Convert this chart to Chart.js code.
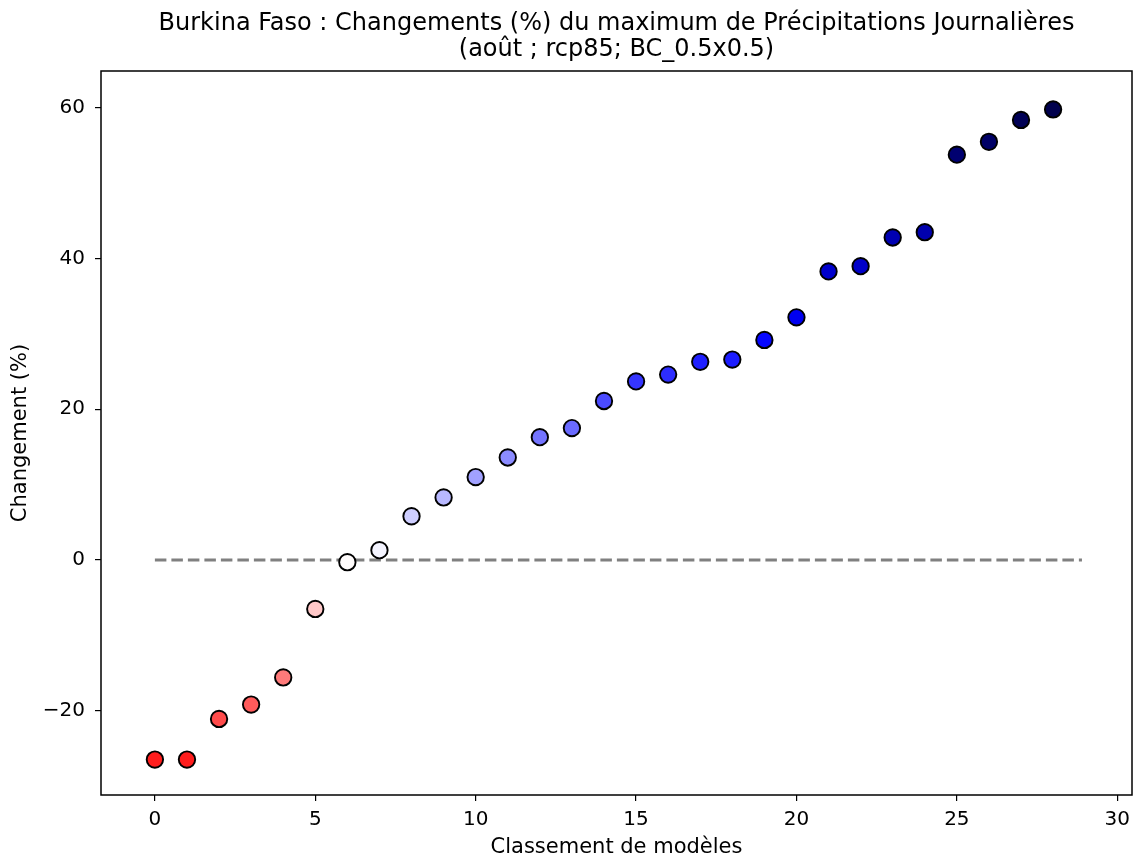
<!DOCTYPE html>
<html>
<head>
<meta charset="utf-8">
<script src="https://cdn.jsdelivr.net/npm/chart.js@4/dist/chart.umd.min.js"></script>
<style>
html,body{margin:0;padding:0;background:#fff;}
#wrap{width:1135px;height:861px;}
</style>
</head>
<body>
<div id="wrap"><canvas id="c" width="1135" height="861"></canvas></div>
<script>
const ranks = [0,1,2,3,4,5,6,7,8,9,10,11,12,13,14,15,16,17,18,19,20,21,22,23,24,25,26,27,28];
const changes = [-26.5,-26.5,-21.1,-19.2,-15.6,-6.5,-0.3,1.3,5.8,8.3,11.0,13.6,16.3,17.5,21.1,23.7,24.6,26.3,26.6,29.2,32.2,38.3,39.0,42.8,43.5,53.8,55.5,58.4,59.8];
const zeroLineX = [0, 28.9];
const xTicks = [0,5,10,15,20,25,30];
const yTicks = [-20,0,20,40,60];
const titleLines = ["Burkina Faso : Changements (%) du maximum de Précipitations Journalières", "(août ; rcp85; BC_0.5x0.5)"];
const xLabel = "Classement de modèles";
const yLabel = "Changement (%)";

// seismic_r colormap, normalised symmetric around zero
const seismic = [[0,0,0.3],[0,0,1],[1,1,1],[1,0,0],[0.5,0,0]];
function seismicR(t){
  t = Math.max(0, Math.min(1, 1 - t));
  const p = t * 4; const i = Math.min(3, Math.floor(p)); const f = p - i;
  const a = seismic[i], b = seismic[i+1];
  const c = a.map((v,k)=> Math.round(255*(v + (b[k]-v)*f)));
  return `rgb(${c[0]},${c[1]},${c[2]})`;
}
const vmax = Math.max(...changes.map(Math.abs));
const colors = changes.map(v => seismicR((v + vmax) / (2*vmax)));

const FONT = "'DejaVu Sans', sans-serif";

const framePlugin = {
  id: 'frame',
  afterDraw(chart){
    const {ctx, chartArea:a} = chart;
    ctx.save();
    ctx.strokeStyle = '#000';
    ctx.lineWidth = 1.5;
    ctx.strokeRect(a.left, a.top, a.right - a.left, a.bottom - a.top);
    // title centred over the plot area
    ctx.fillStyle = '#000';
    ctx.font = "24px " + FONT;
    ctx.textAlign = 'center';
    ctx.textBaseline = 'alphabetic';
    const cx = (a.left + a.right) / 2;
    ctx.fillText(titleLines[0], cx, 29.5);
    ctx.fillText(titleLines[1], cx, 56);
    ctx.restore();
  }
};

new Chart(document.getElementById('c'), {
  type: 'scatter',
  data: {
    datasets: [
      {
        label: 'models',
        data: ranks.map((r,i)=>({x:r, y:changes[i]})),
        backgroundColor: colors,
        borderColor: '#000',
        borderWidth: 1.9,
        pointRadius: 8.2,
        pointHoverRadius: 8.2
      },
      {
        type: 'line',
        label: 'zero',
        data: zeroLineX.map(x=>({x:x, y:0})),
        borderColor: '#808080',
        borderWidth: 3,
        borderDash: [11.5, 5],
        pointRadius: 0,
        fill: false
      }
    ]
  },
  options: {
    responsive: false,
    animation: false,
    devicePixelRatio: 1,
    layout: { autoPadding: false, padding: { left: 0, right: 3, top: 71, bottom: 0 } },
    plugins: {
      legend: { display: false },
      tooltip: { enabled: false },
      title: { display: false }
    },
    scales: {
      x: {
        type: 'linear',
        min: -1.68,
        max: 30.46,
        afterFit(s){ s.height = 66; s.paddingRight = 0; s.paddingLeft = 0; },
        afterBuildTicks(s){ s.ticks = xTicks.map(v=>({value:v})); },
        ticks: { color: '#000', font: { family: FONT, size: 20 }, padding: 7, maxRotation: 0 },
        grid: { drawOnChartArea: false, color: '#000', tickLength: 6, lineWidth: 1.2 },
        border: { display: false },
        title: { display: true, text: xLabel, color: '#000', font: { family: FONT, size: 21 }, padding: { top: 0, bottom: 1 } }
      },
      y: {
        type: 'linear',
        min: -31.2,
        max: 64.9,
        afterFit(s){ s.width = 101; s.paddingTop = 0; s.paddingBottom = 0; },
        afterBuildTicks(s){ s.ticks = yTicks.map(v=>({value:v})); },
        ticks: { color: '#000', font: { family: FONT, size: 20 }, padding: 10,
          callback: v => v < 0 ? '\u2212' + Math.abs(v) : String(v) },
        grid: { drawOnChartArea: false, color: '#000', tickLength: 6, lineWidth: 1.2 },
        border: { display: false },
        title: { display: true, text: yLabel, color: '#000', font: { family: FONT, size: 21 }, padding: { top: 8, bottom: 0 } }
      }
    }
  },
  plugins: [framePlugin]
});
</script>
</body>
</html>
